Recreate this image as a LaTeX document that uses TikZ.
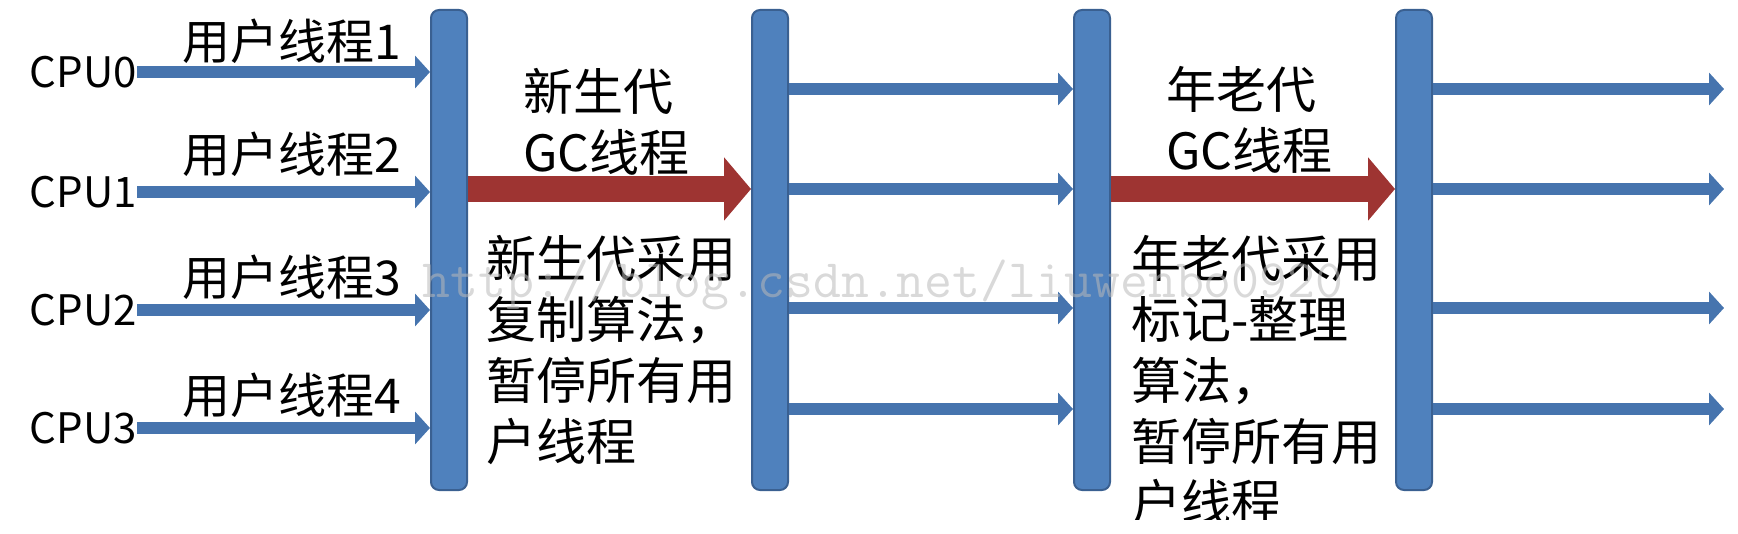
\documentclass[tikz,border=0pt]{standalone}
\usepackage{fontspec}
\newfontfamily\cjk{Noto Sans CJK SC}
\usepackage{xcolor}
\definecolor{barblue}{RGB}{79,129,189}
\definecolor{barline}{RGB}{58,96,145}
\definecolor{arrowblue}{RGB}{70,116,174}
\definecolor{gcred}{RGB}{158,52,50}
\definecolor{wmgray}{RGB}{185,185,185}
\usetikzlibrary{arrows.meta}
\usetikzlibrary{positioning}

\begin{document}
\begin{tikzpicture}[x=0.5pt,y=-0.5pt,
		bar/.style={draw=barline, line width=1pt, fill=barblue, rounded corners=4pt, minimum width=18pt, minimum height=240pt, inner sep=0pt},
		uarrow/.style={arrowblue, line width=6pt, -{Triangle[length=7.5pt,width=16pt]}},
		gcarrow/.style={gcred, line width=13pt, -{Triangle[length=13.5pt,width=31pt]}},
		cpulbl/.style={font=\cjk\fontsize{21}{25}\selectfont, inner sep=0pt},
		lbl/.style={font=\cjk\fontsize{24}{28}\selectfont, inner sep=0pt, anchor=base west},
		block/.style={font=\cjk\fontsize{25}{30.5}\selectfont, inner sep=0pt, align=left, anchor=north west}]
				\useasboundingbox (0,0) rectangle (1738,534);
				
				%bars
				\node[bar] (bar1) at (449,250) {};
				\node[bar] (bar2) at (770,250) {};
				\node[bar] (bar3) at (1092,250) {};
				\node[bar] (bar4) at (1414,250) {};
				
				%cpu rows
				\coordinate (c0) at (137,72);
				\coordinate (c1) at (137,192);
				\coordinate (c2) at (137,310);
				\coordinate (c3) at (137,428);
				\node[cpulbl, anchor=east] (cpu0) at (c0) {CPU0};
				\node[cpulbl, anchor=east] (cpu1) at (c1) {CPU1};
				\node[cpulbl, anchor=east] (cpu2) at (c2) {CPU2};
				\node[cpulbl, anchor=east] (cpu3) at (c3) {CPU3};
				\draw[uarrow] (c0) -- (c0 -| bar1.west);
				\draw[uarrow] (c1) -- (c1 -| bar1.west);
				\draw[uarrow] (c2) -- (c2 -| bar1.west);
				\draw[uarrow] (c3) -- (c3 -| bar1.west);
				\node[lbl] (ut1) at (182,60) {用户线程1};
				\node[lbl] (ut2) at (182,173) {用户线程2};
				\node[lbl] (ut3) at (182,295) {用户线程3};
				\node[lbl] (ut4) at (182,413) {用户线程4};
				
				%draw arrow
				\coordinate (rend) at (1724,0);
				\foreach \y in {89,189,308,409}{
					\coordinate (row) at (0,\y);
					\draw[uarrow] (bar2.east |- row) -- (bar3.west |- row);
					\draw[uarrow] (bar4.east |- row) -- (rend |- row);
				}
				\coordinate (gcrow) at (0,189);
				\draw[gcarrow] (bar1.east |- gcrow) -- (bar2.west |- gcrow);
				\draw[gcarrow] (bar3.east |- gcrow) -- (bar4.west |- gcrow);
				
				%texts
				\node[block] (young) at (523,68) {新生代\\GC线程};
				\node[block] (youngtxt) at (486,235) {新生代采用\\复制算法，\\暂停所有用\\户线程};
				\node[block] (old) at (1166,66) {年老代\\GC线程};
				\begin{scope}
					\clip (0,0) rectangle (1738,519);
					\node[block] (oldtxt) at (1131,235) {年老代采用\\标记-整理\\算法，\\暂停所有用\\户线程};
				\end{scope}
				
				%watermark
				\node[font=\ttfamily\fontsize{27.1}{30}\selectfont, text=wmgray, opacity=0.55, anchor=base west, inner sep=0pt] (wm) at (422,297) {http://blog.csdn.net/liuwenbo0920};
			\end{tikzpicture}
\end{document}
